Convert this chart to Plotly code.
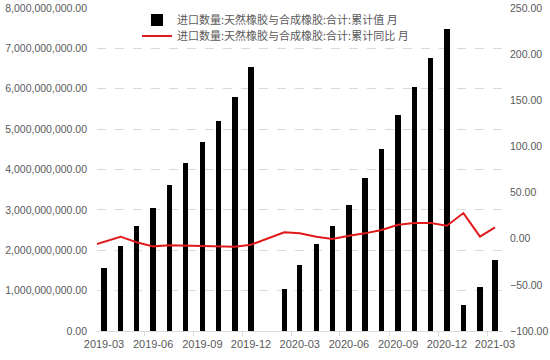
import plotly.graph_objects as go

months = ["2019-02", "2019-03", "2019-04", "2019-05", "2019-06", "2019-07", "2019-08",
          "2019-09", "2019-10", "2019-11", "2019-12",
          "2020-02", "2020-03", "2020-04", "2020-05", "2020-06", "2020-07", "2020-08",
          "2020-09", "2020-10", "2020-11", "2020-12",
          "2021-01", "2021-02", "2021-03"]
cum_value = [None, 1.55e9, 2.11e9, 2.61e9, 3.04e9, 3.61e9, 4.15e9, 4.67e9, 5.19e9, 5.80e9, 6.53e9,
             1.04e9, 1.64e9, 2.15e9, 2.59e9, 3.13e9, 3.80e9, 4.50e9, 5.36e9, 6.04e9, 6.75e9, 7.47e9,
             0.64e9, 1.08e9, 1.77e9]
cum_yoy = [-8.5, -3.5, 2.2, -3.9, -8.3, -7.2, -7.6, -8.7, -8.7, -8.7, -6.5,
           7.0, 5.8, 2.2, -0.3, 3.3, 5.8, 9.4, 15.2, 17.0, 17.0, 14.1,
           27.8, 2.2, 12.3]
name_bar = "进口数量:天然橡胶与合成橡胶:合计:累计值 月"
name_line = "进口数量:天然橡胶与合成橡胶:合计:累计同比 月"

x = [m + "-01" for m in months]

GRAY = "#595959"
LEG_FONT = dict(family="Noto Sans CJK SC", size=11, color=GRAY)

fig = go.Figure()
fig.add_trace(go.Bar(x=x, y=cum_value, name=name_bar, marker_color="#000000",
                     marker_line_width=0, width=10 * 86400000, yaxis="y",
                     legend="legend"))
fig.add_trace(go.Scatter(x=x, y=cum_yoy, name=name_line, mode="lines",
                         line=dict(color="#e0191b", width=2), yaxis="y2",
                         legend="legend2"))

fig.update_layout(
    width=550, height=360,
    margin=dict(l=97, r=47, t=8, b=29, autoexpand=False),
    paper_bgcolor="white", plot_bgcolor="white",
    font=dict(family="Liberation Sans, Arial, sans-serif", size=11, color=GRAY),
    showlegend=True,
    legend=dict(x=0.0985, y=0.9628, xanchor="left", yanchor="middle",
                bgcolor="rgba(0,0,0,0)", font=LEG_FONT, itemwidth=30),
    legend2=dict(x=0.0985, y=0.9133, xanchor="left", yanchor="middle",
                 bgcolor="rgba(0,0,0,0)", font=LEG_FONT, itemwidth=30),
    xaxis=dict(type="date", range=["2019-02-16", "2021-03-16"],
               tickformat="%Y-%m", dtick="M3", tick0="2019-03-01",
               showgrid=False, ticks="", showline=True, linecolor="#d9d9d9",
               linewidth=1, zeroline=False, automargin=False, ticklabelstandoff=3,
               minor=dict(ticks="outside", ticklen=4, tickcolor="#d9d9d9",
                          dtick="M3", tick0="2019-02-15", showgrid=False)),
    yaxis=dict(range=[0, 8e9], dtick=1e9, tickformat=",.2f",
               tickfont=dict(size=10.5),
               showgrid=True, gridcolor="#d9d9d9", griddash="dash", gridwidth=1,
               zeroline=False, ticks="", ticklabelstandoff=9, automargin=False),
    yaxis2=dict(range=[-100, 250], dtick=50, tickformat=".2f", overlaying="y",
                tickfont=dict(size=10.5),
                side="right", showgrid=False, zeroline=False, ticks="",
                ticklabelstandoff=6, automargin=False),
    bargap=0,
)

fig.write_html("out.html", config={"displayModeBar": False},
               post_script="document.body.style.margin='0';")
